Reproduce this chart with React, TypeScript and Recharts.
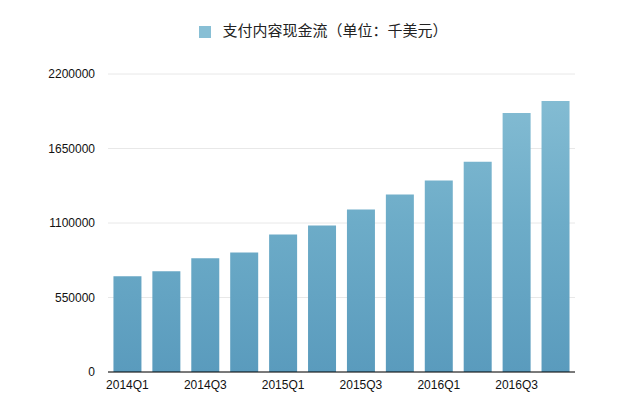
import { BarChart, Bar, XAxis, YAxis, CartesianGrid, Legend } from 'recharts';

const quarters = [
  '2014Q1', '2014Q2', '2014Q3', '2014Q4',
  '2015Q1', '2015Q2', '2015Q3', '2015Q4',
  '2016Q1', '2016Q2', '2016Q3', '2016Q4',
];
const cashFlow = [
  706000, 743000, 839000, 883000,
  1015000, 1082000, 1199000, 1310000,
  1413000, 1553000, 1913000, 2001000,
];
const yTicks = [0, 550000, 1100000, 1650000, 2200000];
const seriesName = '支付内容现金流（单位：千美元）';

const data = quarters.map((q, i) => ({ quarter: q, value: cashFlow[i] }));

const FONT = '"Liberation Sans", Arial, "Noto Sans CJK SC", sans-serif';

export default function App() {
  return (
    <div style={{ position: 'absolute', left: 0, top: 0, width: 633, height: 398, background: '#fff', fontFamily: FONT }}>
      <BarChart
        width={633}
        height={398}
        data={data}
        margin={{ top: 53, right: 58, bottom: 0, left: 0 }}
        barCategoryGap="14%"
      >
        <defs>
          <linearGradient id="barGrad" gradientUnits="userSpaceOnUse" x1="0" y1="73" x2="0" y2="372">
            <stop offset="0%" stopColor="#88bfd5" />
            <stop offset="50%" stopColor="#6dacc8" />
            <stop offset="100%" stopColor="#5a9bbd" />
          </linearGradient>
        </defs>
        <CartesianGrid vertical={false} stroke="#e8e8e8" />
        <XAxis
          dataKey="quarter"
          interval={1}
          height={26}
          tickLine={false}
          tickMargin={2}
          axisLine={{ stroke: '#000' }}
          tick={{ fill: '#111', fontSize: 12, fontFamily: FONT }}
        />
        <YAxis
          width={108}
          domain={[0, 2200000]}
          ticks={yTicks}
          axisLine={false}
          tickLine={false}
          tickMargin={7}
          tick={{ fill: '#111', fontSize: 12, fontFamily: FONT }}
        />
        <Legend
          verticalAlign="top"
          align="center"
          iconType="square"
          iconSize={12}
          wrapperStyle={{ top: 19, left: 12, width: 633, fontFamily: FONT, fontSize: 15 }}
          formatter={(v) => <span style={{ color: '#222', marginLeft: 7, fontSize: 15 }}>{v}</span>}
        />
        <Bar
          dataKey="value"
          name={seriesName}
          fill="url(#barGrad)"
          isAnimationActive={false}
        />
      </BarChart>
    </div>
  );
}
